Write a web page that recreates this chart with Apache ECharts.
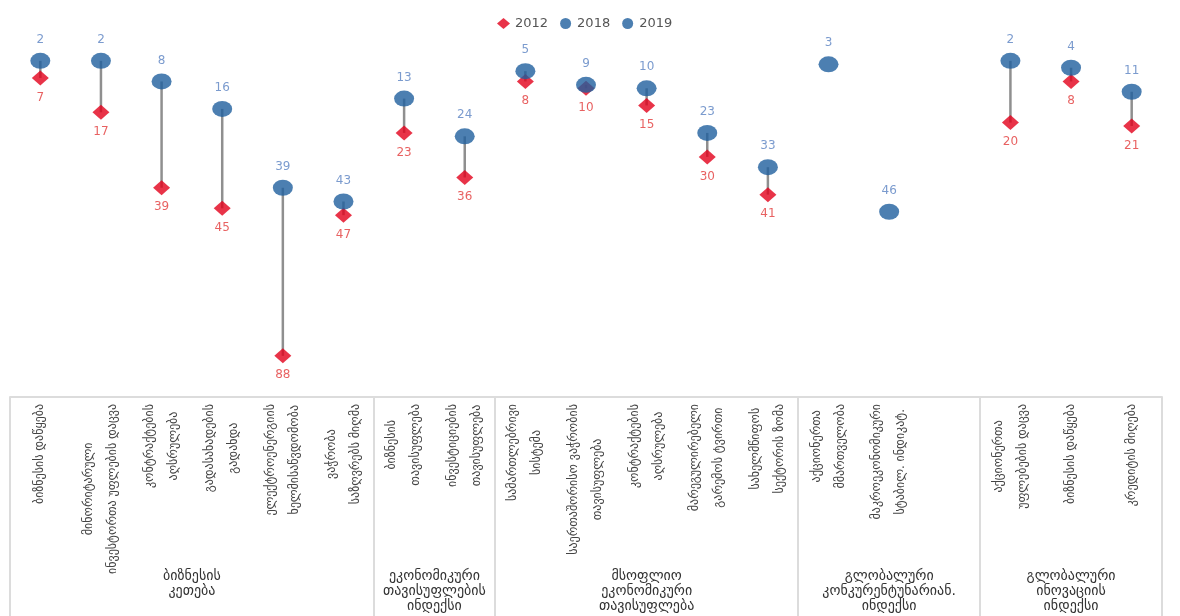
<!DOCTYPE html>
<html>
<head>
<meta charset="utf-8">
<script src="https://cdn.jsdelivr.net/npm/echarts@6/dist/echarts.min.js"></script>
<style>
  html, body { margin: 0; padding: 0; background: #ffffff; }
  #chart { width: 1180px; height: 616px; }
</style>
</head>
<body>
<div id="chart"></div>
<script>
const categories = [
  'ბიზნესის დაწყება',
  'მინორიტარული\nინვესტორთა უფლების დაცვა',
  'კონტრაქტების\nაღსრულება',
  'გადასახადების\nგადახდა',
  'ელექტროენერგიის\nხელმისაწვდომობა',
  'ვაჭრობა\nსაზღვრებს მიღმა',
  'ბიზნესის\nთავისუფლება',
  'ინვესტიციების\nთავისუფლება',
  'სამართლებრივი\nსისტემა',
  'საერთაშორისო ვაჭრობის\nთავისუფლება',
  'კონტრაქტების\nაღსრულება',
  'მარეგულირებელი\nგარემოს ტვირთი',
  'სახელმწიფოს\nსექტორის ზომა',
  'აქციონერთა\nმმართველობა',
  'მაკროეკონომიკური\nსტაბილ. ინდიკატ.',
  '',
  'აქციონერთა\nუფლებების დაცვა',
  'ბიზნესის დაწყება',
  'კრედიტის მიღება'
];
const values2012 = [7, 17, 39, 45, 88, 47, 23, 36, 8, 10, 15, 30, 41, null, null, null, 20, 8, 21];
const values2018 = [null, null, null, null, null, null, null, null, null, null, null, null, null, 3, 46, null, null, null, null];
const values2019 = [2, 2, 8, 16, 39, 43, 13, 24, 5, 9, 10, 23, 33, null, null, null, 2, 4, 11];
const groupNames = [
  'ბიზნესის\nკეთება',
  'ეკონომიკური\nთავისუფლების\nინდექსი',
  'მსოფლიო\nეკონომიკური\nთავისუფლება',
  'გლობალური\nკონკურენტუნარიან.\nინდექსი',
  'გლობალური\nინოვაციის\nინდექსი'
];
const groupSizes = [6, 2, 5, 3, 3];

// group boundaries and centres in category units
const groupEdges = [0];
groupSizes.forEach(s => groupEdges.push(groupEdges[groupEdges.length - 1] + s));
const groupCenters = groupSizes.map((s, i) => groupEdges[i] + s / 2);
const total = groupEdges[groupEdges.length - 1];

const connectorData = [];
for (let i = 0; i < categories.length; i++) {
  const top = values2019[i] != null ? values2019[i] : values2018[i];
  const bottom = values2012[i];
  if (top != null && bottom != null) connectorData.push([i, top, bottom]);
}

const GEO = 'DejaVu Sans';
const NUM = 'DejaVu Sans';
const blueMark = '#1f5f9e';
const blueText = '#5a82c2';
const redMark = '#e2001a';
const redText = '#e23a3a';

const chart = echarts.init(document.getElementById('chart'));
chart.setOption({
  backgroundColor: '#ffffff',
  animation: false,
  legend: {
    data: ['2012', '2018', '2019'],
    top: 12,
    left: 492,
    itemWidth: 13,
    itemHeight: 11,
    itemGap: 12,
    textStyle: { fontFamily: NUM, fontSize: 13, color: '#555555' }
  },
  grid: { left: 10, right: 18, top: 54, bottom: 219, containLabel: false },
  xAxis: [
    {
      type: 'category',
      data: categories,
      position: 'bottom',
      boundaryGap: true,
      axisLine: { show: false },
      axisTick: { show: false },
      splitLine: { show: false },
      axisLabel: {
        interval: 0,
        rotate: 90,
        margin: 7,
        formatter: function (v) {
          if (!v) return '';
          return v.split('\n').map(l => '{c|' + l + '}').join('\n');
        },
        rich: {
          c: { align: 'center', fontFamily: GEO, fontSize: 12, lineHeight: 24, color: '#444444' }
        }
      }
    },
    {
      type: 'value',
      min: 0,
      max: total,
      position: 'bottom',
      axisLine: { show: true, lineStyle: { color: '#dcdcdc', width: 2 } },
      axisTick: {
        show: true,
        customValues: groupEdges,
        length: 220,
        inside: false,
        lineStyle: { color: '#dcdcdc', width: 2 }
      },
      splitLine: { show: false },
      axisLabel: {
        customValues: groupCenters,
        margin: 172,
        fontFamily: GEO,
        fontSize: 14,
        lineHeight: 15,
        color: '#333333',
        align: 'center',
        verticalAlign: 'top',
        formatter: function (v) {
          const idx = groupCenters.findIndex(c => Math.abs(c - v) < 1e-6);
          return idx >= 0 ? groupNames[idx] : '';
        }
      }
    }
  ],
  yAxis: {
    type: 'value',
    inverse: true,
    min: 0,
    max: 100,
    show: false,
    splitLine: { show: false }
  },
  series: [
    {
      type: 'custom',
      name: 'connector',
      xAxisIndex: 0,
      z: 1,
      data: connectorData,
      encode: { x: 0, y: [1, 2] },
      renderItem: function (params, api) {
        const p1 = api.coord([api.value(0), api.value(1)]);
        const p2 = api.coord([api.value(0), api.value(2)]);
        return {
          type: 'line',
          shape: { x1: p1[0], y1: p1[1], x2: p2[0], y2: p2[1] },
          style: { stroke: '#8f8f8f', lineWidth: 2.5 }
        };
      },
      silent: true
    },
    {
      type: 'scatter',
      name: '2012',
      xAxisIndex: 0,
      z: 3,
      symbol: 'diamond',
      symbolSize: [17, 15],
      itemStyle: { color: redMark },
      data: values2012,
      label: {
        show: true,
        position: 'bottom',
        distance: 6,
        fontFamily: NUM,
        fontSize: 12,
        color: redText
      }
    },
    {
      type: 'scatter',
      name: '2018',
      xAxisIndex: 0,
      z: 4,
      symbol: 'circle',
      symbolSize: [20, 16],
      itemStyle: { color: blueMark },
      data: values2018,
      label: {
        show: true,
        position: 'top',
        distance: 7,
        fontFamily: NUM,
        fontSize: 12,
        color: blueText
      }
    },
    {
      type: 'scatter',
      name: '2019',
      xAxisIndex: 0,
      z: 4,
      symbol: 'circle',
      symbolSize: [20, 16],
      itemStyle: { color: blueMark },
      data: values2019,
      label: {
        show: true,
        position: 'top',
        distance: 7,
        fontFamily: NUM,
        fontSize: 12,
        color: blueText
      }
    }
  ]
});
</script>
</body>
</html>
